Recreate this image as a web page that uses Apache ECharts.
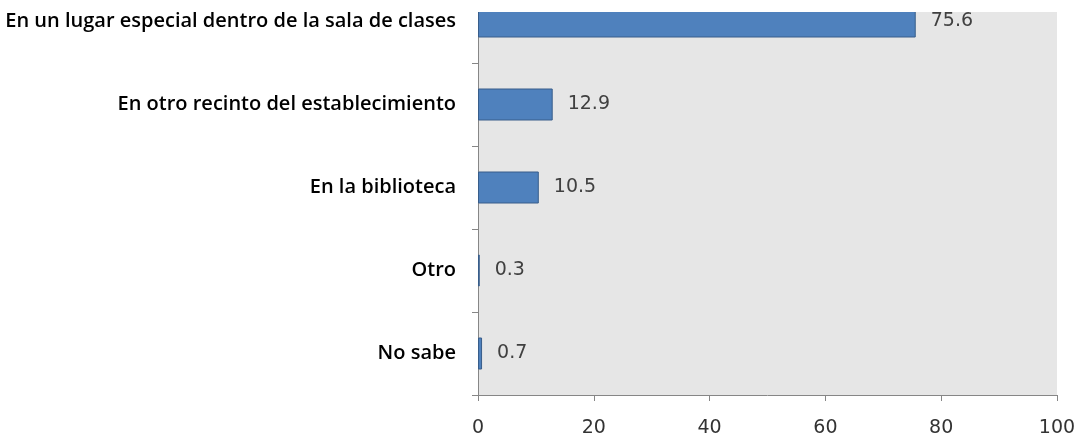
<!DOCTYPE html>
<html>
<head>
<meta charset="utf-8">
<script src="https://cdn.jsdelivr.net/npm/echarts@6/dist/echarts.min.js"></script>
<style>
  html, body { margin: 0; padding: 0; background: #fff; overflow: hidden; width: 1079px; height: 433px; }
  /* la imagen original esta recortada arriba: el grafico sube 20px */
  #chart { position: absolute; left: 0; top: -20px; width: 1079px; height: 453px; }
</style>
</head>
<body>
<div id="chart"></div>
<script>
// categorias, de abajo hacia arriba
const categories = ['No sabe', 'Otro', 'En la biblioteca', 'En otro recinto del establecimiento', 'En un lugar especial dentro de la sala de clases']
const values = [0.7, 0.3, 10.5, 12.9, 75.6]
const xTicks = [0, 20, 40, 60, 80, 100]

const chart = echarts.init(document.getElementById('chart'))
chart.setOption({
  animation: false,
  backgroundColor: '#ffffff',
  grid: {
    left: 478,
    right: 22,
    top: 0,
    bottom: 38,
    outerBoundsMode: 'none',
    show: true,
    backgroundColor: '#e6e6e6',
    borderWidth: 0
  },
  xAxis: {
    type: 'value',
    min: xTicks[0],
    max: xTicks[xTicks.length - 1],
    interval: 20,
    axisLine: { show: true, lineStyle: { color: '#868686', width: 1 } },
    axisTick: { show: true, length: 6, lineStyle: { color: '#868686' } },
    splitLine: { show: false },
    axisLabel: {
      color: '#333',
      fontSize: 19,
      fontFamily: 'DejaVu Sans',
      margin: 24
    }
  },
  yAxis: {
    type: 'category',
    data: categories,
    axisLine: { show: true, lineStyle: { color: '#868686', width: 1 } },
    axisTick: { show: true, length: 6, lineStyle: { color: '#868686' } },
    axisLabel: {
      color: '#000',
      fontSize: 20,
      fontWeight: 600,
      fontFamily: 'Open Sans',
      margin: 22
    }
  },
  series: [{
    type: 'bar',
    data: values,
    barWidth: 32,
    itemStyle: { color: '#4f81bd', borderColor: '#385d8a', borderWidth: 1 },
    label: {
      show: true,
      position: 'right',
      distance: 15,
      color: '#404040',
      fontSize: 19,
      fontFamily: 'DejaVu Sans',
      formatter: p => p.value.toFixed(1)
    }
  }],
  graphic: [{
    // franja blanca donde la imagen original corta el area del grafico
    type: 'rect',
    z: 100,
    shape: { x: 470, y: 0, width: 609, height: 32 },
    style: { fill: '#ffffff' }
  }]
})
</script>
</body>
</html>
